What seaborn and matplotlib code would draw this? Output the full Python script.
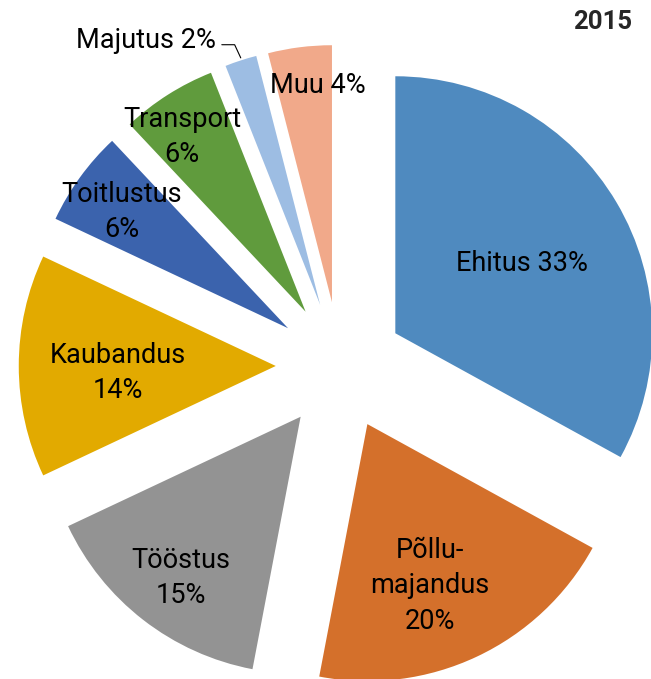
import numpy as np
import matplotlib
matplotlib.use("Agg")
import matplotlib.pyplot as plt
import seaborn as sns

# Sector shares, 2015 (%), clockwise from 12 o'clock
sectors = ['Ehitus', 'Põllumajandus', 'Tööstus', 'Kaubandus', 'Toitlustus', 'Transport', 'Majutus', 'Muu']
shares = [33, 20, 15, 14, 6, 6, 2, 4]
labels = ['Ehitus 33%', 'Põllu-\nmajandus\n20%', 'Tööstus\n15%', 'Kaubandus\n14%',
          'Toitlustus\n6%', 'Transport\n6%', 'Majutus 2%', 'Muu 4%']
colors = ['#4F8ABF', '#D4702B', '#939393', '#E2AA00', '#3B63AD', '#609B3D', '#9DBDE3', '#F1A98A']

sns.set_theme(style="white")
plt.rcParams['font.family'] = ['Roboto', 'DejaVu Sans']

fig = plt.figure(figsize=(6.51, 6.79), dpi=100)
ax = fig.add_axes([0, 0, 1, 1])

wedges, _ = ax.pie(shares, explode=[0.25] * len(shares), startangle=90, counterclock=False,
                   colors=sns.color_palette(colors), radius=1, center=(0, 0),
                   wedgeprops=dict(linewidth=0))

# label spots (data units, radius = 1)
label_pos = [(0.708, 0.397), (0.350, -0.856), (-0.619, -0.825), (-0.864, -0.027),
             (-0.848, 0.599), (-0.615, 0.891), (-0.755, 1.268), (-0.086, 1.093)]
for lab, (x, y) in zip(labels, label_pos):
    ax.text(x, y, lab, ha='center', va='center', fontsize=19.5, color='black', linespacing=1.4)

# leader line for the small Majutus slice
w = wedges[6]
mid = np.deg2rad((w.theta1 + w.theta2) / 2)
cx, cy = w.center
tip = (cx + 1.0 * np.cos(mid), cy + 1.0 * np.sin(mid))
ax.plot([-0.46, -0.41, tip[0]], [1.250, 1.250, tip[1] + 0.01], color='black', lw=0.8)

ax.set_xlim(-1.323, 1.210)
ax.set_ylim(-1.218, 1.424)
ax.set_aspect('auto')
ax.axis('off')

fig.text(632 / 651, 1 - 22 / 679, '2015', ha='right', va='center', fontsize=18.5, fontweight='bold')

fig.savefig('out.png', dpi=100)
